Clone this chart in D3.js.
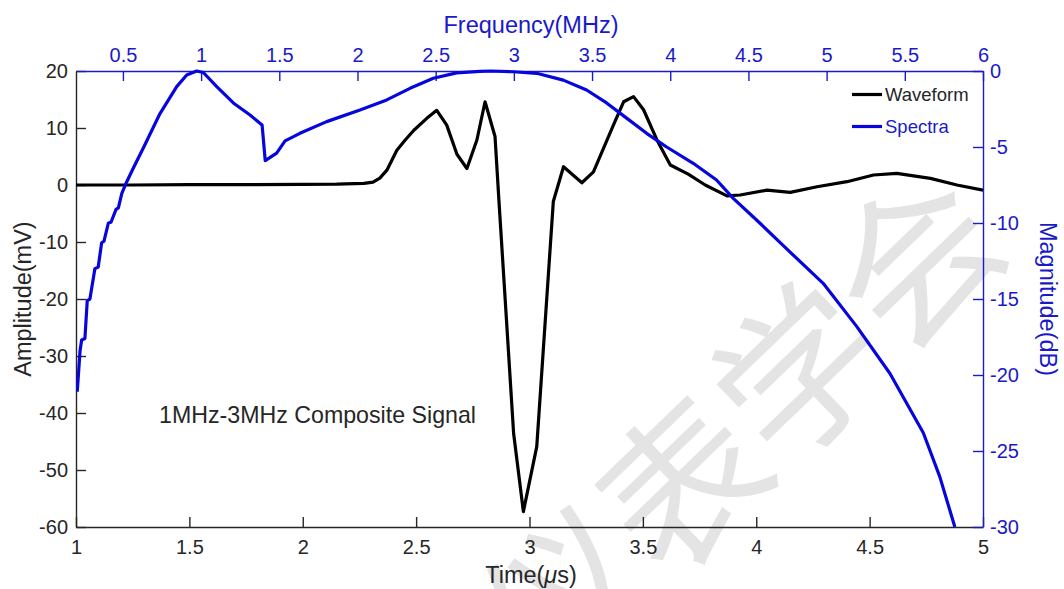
<!DOCTYPE html>
<html>
<head>
<meta charset="utf-8">
<script src="https://cdn.jsdelivr.net/npm/d3@7"></script>
<style>
  html, body { margin: 0; padding: 0; background: #fff; }
  svg { display: block; font-family: "Liberation Sans", Arial, sans-serif; }
</style>
</head>
<body>
<svg id="chart" width="1064" height="589"></svg>
<script>
// Received waveform (time in µs, amplitude in mV)
const timeUs = [1.00, 1.25, 1.50, 1.75, 2.00, 2.15, 2.27, 2.31, 2.34, 2.371, 2.415, 2.45, 2.49, 2.547, 2.591, 2.635, 2.68, 2.724, 2.768, 2.804, 2.848, 2.865, 2.93, 2.973, 3.032, 3.105, 3.15, 3.231, 3.282, 3.37, 3.415, 3.459, 3.503, 3.562, 3.621, 3.70, 3.775, 3.871, 3.929, 4.047, 4.15, 4.268, 4.40, 4.517, 4.62, 4.768, 4.885, 5.0];
const amplitudeMv = [0, 0, 0.05, 0.05, 0.1, 0.15, 0.3, 0.5, 1.2, 2.6, 6.1, 7.8, 9.6, 11.7, 13.1, 10.5, 5.4, 2.9, 7.9, 14.6, 8.5, -2.6, -43.6, -57.3, -45.9, -2.9, 3.2, 0.4, 2.3, 10.5, 14.6, 15.5, 13.2, 7.9, 3.5, 1.9, 0.0, -1.9, -1.75, -0.9, -1.3, -0.3, 0.58, 1.75, 2.05, 1.17, 0.0, -0.9];

// Magnitude spectrum (frequency in MHz, magnitude in dB)
const freqMHz = [0.208, 0.226, 0.236, 0.257, 0.272, 0.289, 0.321, 0.342, 0.364, 0.379, 0.407, 0.424, 0.456, 0.471, 0.493, 0.524, 0.566, 0.636, 0.737, 0.844, 0.908, 0.972, 1.014, 1.1, 1.206, 1.313, 1.39, 1.41, 1.483, 1.537, 1.632, 1.803, 2.016, 2.187, 2.336, 2.485, 2.634, 2.783, 2.85, 2.996, 3.146, 3.316, 3.465, 3.593, 3.721, 3.849, 3.977, 4.147, 4.296, 4.403, 4.552, 4.765, 4.978, 5.192, 5.405, 5.618, 5.724, 5.82];
const magnitudeDb = [-21.1, -18.4, -17.7, -17.6, -15.1, -15.0, -13.0, -12.9, -11.3, -11.2, -10.0, -9.95, -9.1, -9.0, -8.05, -7.3, -6.4, -4.95, -2.8, -1.03, -0.26, 0, -0.1, -1.03, -2.1, -2.9, -3.55, -5.9, -5.4, -4.6, -4.1, -3.33, -2.57, -1.9, -1.14, -0.48, -0.12, -0.02, 0, -0.05, -0.15, -0.6, -1.25, -2.1, -3.1, -4.1, -5.0, -6.07, -7.17, -8.38, -9.8, -11.9, -13.97, -16.8, -19.9, -23.8, -26.7, -30];

// Tick values
const timeTicks = [1, 1.5, 2, 2.5, 3, 3.5, 4, 4.5, 5];
const ampTicks = [-60, -50, -40, -30, -20, -10, 0, 10, 20];
const freqTicks = [0.5, 1, 1.5, 2, 2.5, 3, 3.5, 4, 4.5, 5, 5.5, 6];
const dbTicks = [-30, -25, -20, -15, -10, -5, 0];

const seriesNames = ["Waveform", "Spectra"];

const GREY = "#262626";
const AXBLUE = "#1a1ac8";
const LINEBLUE = "#0606dc";

const L = 76, R = 983, T = 71, B = 527;

const svg = d3.select("#chart");

// faint watermark behind the plot
svg.append("text")
  .attr("transform", "translate(734,421) rotate(-44)")
  .attr("text-anchor", "middle")
  .attr("dominant-baseline", "central")
  .attr("font-family", "'Noto Sans CJK SC', sans-serif")
  .attr("font-size", 162)
  .attr("fill", "#e4e4e4")
  .text("仪表学会");

const x = d3.scaleLinear().domain([1, 5]).range([L, R]);
const xf = d3.scaleLinear().domain([0.2, 6]).range([L, R]);
const yA = d3.scaleLinear().domain([-60, 20]).range([B, T]);
const yD = d3.scaleLinear().domain([-30, 0]).range([B, T]);

svg.append("defs").append("clipPath").attr("id", "plotClip")
  .append("rect").attr("x", L).attr("y", T - 2).attr("width", R - L).attr("height", B - T + 2);

const fmt = d => String(d);

function styleAxis(g, color) {
  g.select(".domain").attr("stroke", color).attr("stroke-width", 1.4);
  g.selectAll(".tick line").attr("stroke", color).attr("stroke-width", 1.4);
  g.selectAll(".tick text").attr("fill", color).attr("font-size", 20)
    .attr("font-family", "'Liberation Sans', Arial, sans-serif");
}

// bottom: time
svg.append("g").attr("transform", `translate(0,${B})`)
  .call(d3.axisBottom(x).tickValues(timeTicks).tickFormat(fmt).tickSizeInner(-10).tickSizeOuter(0).tickPadding(13))
  .call(g => styleAxis(g, GREY));

// left: amplitude
svg.append("g").attr("transform", `translate(${L},0)`)
  .call(d3.axisLeft(yA).tickValues(ampTicks).tickFormat(fmt).tickSizeInner(-10).tickSizeOuter(0).tickPadding(8))
  .call(g => styleAxis(g, GREY));

// top: frequency
svg.append("g").attr("transform", `translate(0,${T})`)
  .call(d3.axisTop(xf).tickValues(freqTicks).tickFormat(fmt).tickSizeInner(-10).tickSizeOuter(0).tickPadding(9))
  .call(g => styleAxis(g, AXBLUE));

// right: magnitude
svg.append("g").attr("transform", `translate(${R},0)`)
  .call(d3.axisRight(yD).tickValues(dbTicks).tickFormat(fmt).tickSizeInner(-10).tickSizeOuter(0).tickPadding(7))
  .call(g => styleAxis(g, AXBLUE));

// axis titles
const TITLE = 23.5;
svg.append("text").attr("x", 531).attr("y", 33).attr("text-anchor", "middle")
  .attr("font-size", TITLE).attr("fill", AXBLUE).text("Frequency(MHz)");

const tl = svg.append("text").attr("x", 531).attr("y", 583).attr("text-anchor", "middle")
  .attr("font-size", TITLE).attr("fill", GREY);
tl.append("tspan").text("Time(");
tl.append("tspan").attr("font-style", "italic").text("μ");
tl.append("tspan").text("s)");

svg.append("text").attr("transform", "translate(31,299) rotate(-90)").attr("text-anchor", "middle")
  .attr("font-size", TITLE).attr("fill", GREY).text("Amplitude(mV)");

svg.append("text").attr("transform", "translate(1040,299) rotate(90)").attr("text-anchor", "middle")
  .attr("font-size", TITLE).attr("fill", AXBLUE).text("Magnitude(dB)");

// annotation
svg.append("text").attr("x", 159).attr("y", 423)
  .attr("font-size", 23.2).attr("fill", GREY).text("1MHz-3MHz Composite Signal");

// data lines
const plot = svg.append("g").attr("clip-path", "url(#plotClip)");

const wave = timeUs.map((t, i) => [t, amplitudeMv[i]]);
const spec = freqMHz.map((f, i) => [f, magnitudeDb[i]]);

plot.append("path").datum(wave)
  .attr("fill", "none").attr("stroke", "#000").attr("stroke-width", 3.2)
  .attr("stroke-linejoin", "round")
  .attr("d", d3.line().x(d => x(d[0])).y(d => yA(d[1])));

plot.append("path").datum(spec)
  .attr("fill", "none").attr("stroke", LINEBLUE).attr("stroke-width", 3.2)
  .attr("stroke-linejoin", "round")
  .attr("d", d3.line().x(d => xf(d[0])).y(d => yD(d[1])));

// legend
const legend = svg.append("g");
const legColors = ["#000", LINEBLUE];
const legText = [GREY, AXBLUE];
seriesNames.forEach((name, i) => {
  const yy = 94.5 + i * 32;
  legend.append("line").attr("x1", 852).attr("x2", 882).attr("y1", yy).attr("y2", yy)
    .attr("stroke", legColors[i]).attr("stroke-width", 3.2);
  legend.append("text").attr("x", 885).attr("y", yy + 6.8)
    .attr("font-size", 18.5).attr("fill", legText[i]).text(name);
});
</script>
</body>
</html>
